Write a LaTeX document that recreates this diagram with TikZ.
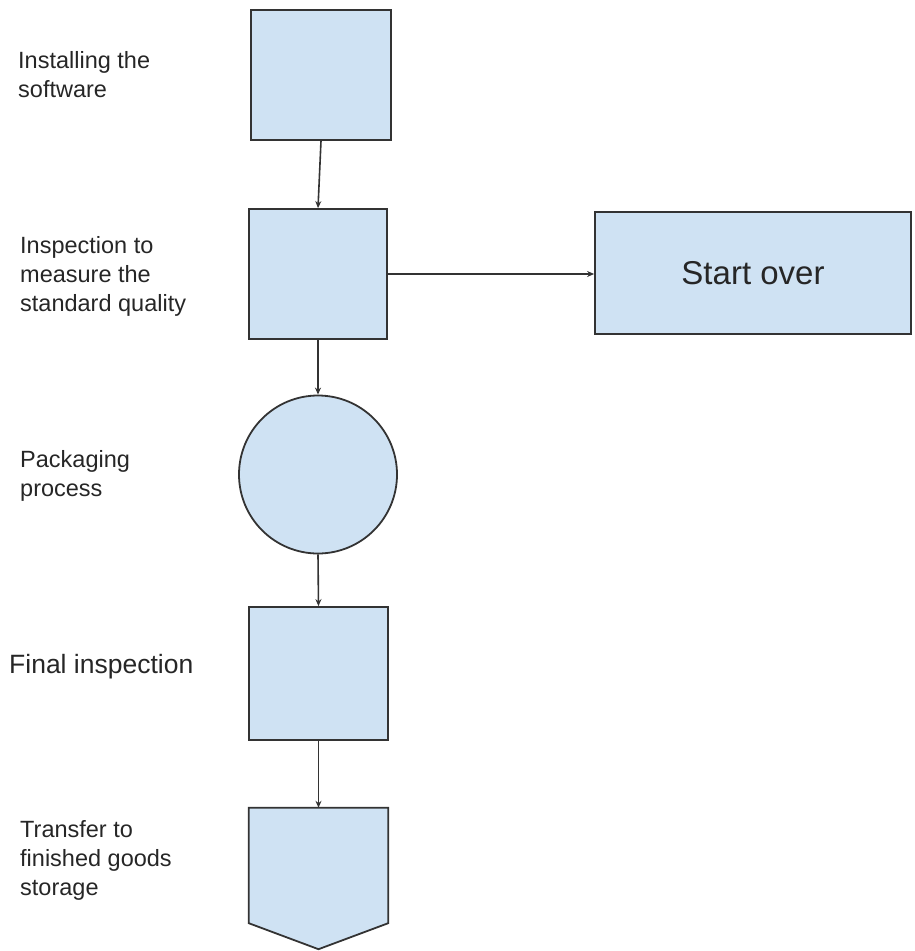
\documentclass[tikz,border=0pt]{standalone}
\usepackage{fontspec}
\setmainfont{Liberation Sans}
\usepackage{tikz}
\usetikzlibrary{arrows,arrows.meta,shapes,positioning,calc}

\definecolor{boxblue}{HTML}{CFE2F3}
\definecolor{edgegray}{HTML}{333333}

\begin{document}
\begin{tikzpicture}[x=1pt,y=-1pt,>={Stealth[length=7pt,width=6pt]},auto]

  \tikzstyle{step box}=[rectangle,draw=edgegray,line width=1.8pt,fill=boxblue,
  			  inner sep=0pt]
  \tikzstyle{step circle}=[circle,draw=edgegray,line width=1.8pt,fill=boxblue,
  			  inner sep=0pt,minimum size=158pt]
  \tikzstyle{flow}=[->,draw=edgegray,line width=1.6pt]
  \tikzstyle{label text}=[anchor=base west,align=left,inner sep=0pt,
  			  text=black!85,font=\fontsize{23.5}{29}\selectfont]

  \useasboundingbox (0,0) rectangle (914,951);

  % Steps
  \node [step box,minimum width=140pt,minimum height=130pt] (install) at (321,75)     {};
  \node [step box,minimum width=138pt,minimum height=130pt] (inspect) at (318,274)    {};
  \node [step box,minimum width=316pt,minimum height=122pt,
         font=\fontsize{33}{38}\selectfont,text=black!85]     (startover) at (753,273) {Start over};
  \node [step circle]                                          (pack) at (318,474.5)   {};
  \node [step box,minimum width=139pt,minimum height=133pt] (final) at (318.5,673.5) {};
  \node [rectangle,inner sep=0pt,minimum width=139pt,minimum height=115pt]
                                                               (transfer) at (318.5,865.5) {};

  % Transfer shape
  \filldraw [draw=edgegray,line width=1.8pt,fill=boxblue,line join=miter]
    (transfer.north west) -- (transfer.north east) -- (transfer.south east)
    -- ([yshift=-26pt]transfer.south) -- (transfer.south west) -- cycle;

  % Connectors
  \draw [flow] (install.south) -- (inspect.north);
  \draw [flow] (inspect.east)  -- (inspect.east -| startover.west);
  \draw [flow] (inspect.south) -- (pack.north);
  \draw [flow] (pack.south)    -- (final.north);
  \draw [flow] (final.south)   -- (transfer.north);

  % Labels (base is the last line)
  \node [label text] (installtxt)  at (18,97)  {Installing the\\software};
  \node [label text] (inspecttxt)  at (20,311) {Inspection to\\measure the\\standard quality};
  \node [label text] (packtxt)     at (20,496) {Packaging\\process};
  \node [label text,font=\fontsize{26.5}{32}\selectfont]
                     (finaltxt)    at (9,673)  {Final inspection};
  \node [label text] (transfertxt) at (20,895) {Transfer to\\finished goods\\storage};
\end{tikzpicture}
\end{document}
